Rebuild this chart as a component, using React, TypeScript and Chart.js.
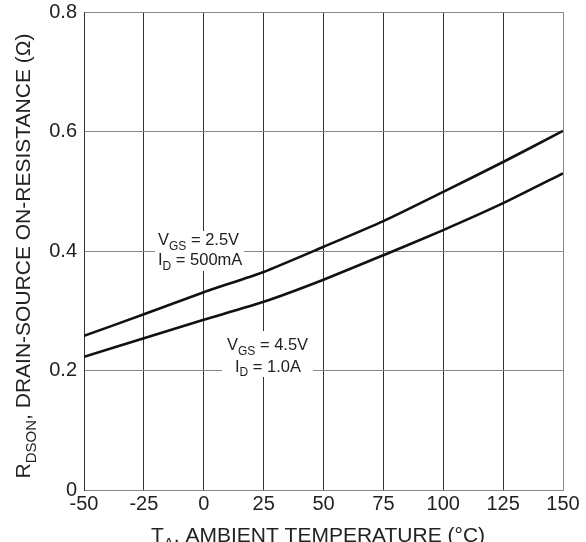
import React, { useEffect, useRef } from "react";
import { Chart, registerables } from "chart.js";

Chart.register(...registerables);

const temps = [-50, -25, 0, 25, 50, 75, 100, 125, 150];
const rdsonVgs25 = [0.258, 0.294, 0.331, 0.365, 0.407, 0.45, 0.499, 0.549, 0.601];
const rdsonVgs45 = [0.223, 0.254, 0.285, 0.315, 0.352, 0.393, 0.435, 0.48, 0.53];
const yTicks = [0, 0.2, 0.4, 0.6, 0.8];
const xTicks = [-50, -25, 0, 25, 50, 75, 100, 125, 150];

const FONT = '"Liberation Sans", Arial, sans-serif';

type Part = { t: string; sub?: boolean };

function richWidth(ctx: CanvasRenderingContext2D, parts: Part[], size: number, subSize: number) {
  let w = 0;
  for (const p of parts) {
    ctx.font = `${p.sub ? subSize : size}px ${FONT}`;
    w += ctx.measureText(p.t).width;
  }
  return w;
}

function drawRich(
  ctx: CanvasRenderingContext2D,
  parts: Part[],
  x: number,
  y: number,
  size: number,
  subSize: number,
  align: "left" | "center"
) {
  const w = richWidth(ctx, parts, size, subSize);
  let cx = align === "center" ? x - w / 2 : x;
  ctx.textAlign = "left";
  ctx.textBaseline = "alphabetic";
  for (const p of parts) {
    ctx.font = `${p.sub ? subSize : size}px ${FONT}`;
    ctx.fillText(p.t, cx, p.sub ? y + size * 0.3 : y);
    cx += ctx.measureText(p.t).width;
  }
  return w;
}

const labelPlugin = {
  id: "labels",
  beforeDatasetsDraw(chart: any) {
    const ctx = chart.ctx as CanvasRenderingContext2D;
    ctx.save();
    ctx.fillStyle = "#ffffff";
    ctx.fillRect(155, 231, 89, 40);
    ctx.fillRect(222, 331, 91, 46);
    ctx.fillStyle = "#222222";
    const s = 16.5;
    const ss = 12;
    drawRich(ctx, [{ t: "V" }, { t: "GS", sub: true }, { t: " = 2.5V" }], 158, 245, s, ss, "left");
    drawRich(ctx, [{ t: "I" }, { t: "D", sub: true }, { t: " = 500mA" }], 158, 265, s, ss, "left");
    drawRich(ctx, [{ t: "V" }, { t: "GS", sub: true }, { t: " = 4.5V" }], 227, 350, s, ss, "left");
    drawRich(ctx, [{ t: "I" }, { t: "D", sub: true }, { t: " = 1.0A" }], 235, 371.5, s, ss, "left");
    ctx.restore();
  },
  afterDraw(chart: any) {
    const ctx = chart.ctx as CanvasRenderingContext2D;
    ctx.save();
    ctx.fillStyle = "#222222";
    drawRich(
      ctx,
      [{ t: "T" }, { t: "A", sub: true }, { t: ", AMBIENT TEMPERATURE (°C)" }],
      318,
      542,
      21,
      15,
      "center"
    );
    ctx.translate(30, 256);
    ctx.rotate(-Math.PI / 2);
    drawRich(
      ctx,
      [{ t: "R" }, { t: "DSON", sub: true }, { t: ", DRAIN-SOURCE ON-RESISTANCE (Ω)" }],
      0,
      0,
      21,
      15,
      "center"
    );
    ctx.restore();
  },
};

export default function App() {
  const ref = useRef<HTMLCanvasElement>(null);
  useEffect(() => {
    if (!ref.current) return;
    const chart = new Chart(ref.current, {
      type: "line",
      data: {
        datasets: [
          {
            label: "VGS = 2.5V, ID = 500mA",
            data: temps.map((t, i) => ({ x: t, y: rdsonVgs25[i] })),
            borderColor: "#111111",
            borderWidth: 2.6,
            pointRadius: 0,
            tension: 0.2,
            fill: false,
          },
          {
            label: "VGS = 4.5V, ID = 1.0A",
            data: temps.map((t, i) => ({ x: t, y: rdsonVgs45[i] })),
            borderColor: "#111111",
            borderWidth: 2.6,
            pointRadius: 0,
            tension: 0.2,
            fill: false,
          },
        ],
      },
      options: {
        responsive: false,
        animation: false,
        layout: { padding: { top: 12, right: 23, left: 0, bottom: 0 } },
        plugins: { legend: { display: false }, tooltip: { enabled: false } },
        scales: {
          x: {
            type: "linear",
            min: xTicks[0],
            max: xTicks[xTicks.length - 1],
            afterBuildTicks: (s: any) => {
              s.ticks = xTicks.map((v) => ({ value: v }));
            },
            afterFit: (s: any) => {
              s.height = 52;
              s.paddingLeft = 0;
              s.paddingRight = 0;
            },
            ticks: {
              color: "#222222",
              font: { family: FONT, size: 20 },
              padding: 2,
              maxRotation: 0,
              autoSkip: false,
              callback: (v: any) => String(v),
            },
            grid: {
              drawTicks: false,
              color: (c: any) => (c.tick && c.tick.value === 150 ? "#888888" : "#333333"),
              lineWidth: 1,
            },
            border: { color: "#888888", width: 1 },
          },
          y: {
            type: "linear",
            min: yTicks[0],
            max: yTicks[yTicks.length - 1],
            afterBuildTicks: (s: any) => {
              s.ticks = yTicks.map((v) => ({ value: v }));
            },
            afterFit: (s: any) => {
              s.width = 84;
              s.paddingTop = 0;
              s.paddingBottom = 0;
            },
            ticks: {
              color: "#222222",
              font: { family: FONT, size: 20 },
              padding: 7,
              autoSkip: false,
              callback: (v: any) => (v === 0 ? "0" : Number(v).toFixed(1)),
            },
            grid: {
              drawTicks: false,
              color: "#888888",
              lineWidth: 1,
            },
            border: { color: "#333333", width: 1 },
          },
        },
      },
      plugins: [labelPlugin],
    });
    return () => chart.destroy();
  }, []);
  return (
    <div style={{ position: "fixed", left: 0, top: 0, width: 586, height: 542, background: "#fff" }}>
      <canvas ref={ref} width={586} height={542} style={{ display: "block" }} />
    </div>
  );
}
